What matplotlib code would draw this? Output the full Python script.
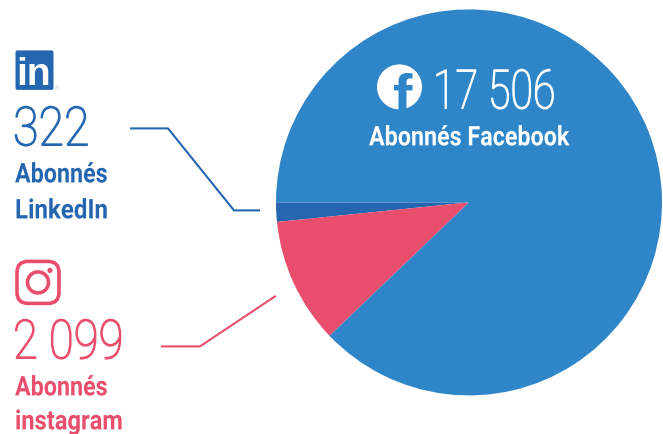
import matplotlib
matplotlib.use("Agg")
import matplotlib.pyplot as plt
from matplotlib.patches import Circle, FancyBboxPatch
from matplotlib.patheffects import AbstractPathEffect
from matplotlib.transforms import Affine2D

# abonnes par reseau
reseaux = ["LinkedIn", "Instagram", "Facebook"]
abonnes = [322, 2099, 17506]
couleurs = ["#2566B0", "#E94E6D", "#2E86C8"]
labels_nb = ["322", "2 099", "17 506"]

H = 435


def Y(y):
    return H - y - 0.4


# pas de police etroite installee: on resserre le texte en x (et on l'epaissit un peu)
class Serre(AbstractPathEffect):
    def __init__(self, x0, sx, lw=0):
        super().__init__()
        self.x0 = x0
        self.sx = sx
        self.lw = lw

    def draw_path(self, renderer, gc, tpath, affine, rgbFace=None):
        a = affine + Affine2D().translate(-self.x0, 0).scale(self.sx, 1).translate(self.x0, 0)
        gc0 = renderer.new_gc()
        gc0.copy_properties(gc)
        gc0.set_linewidth(self.lw)
        gc0.set_foreground(rgbFace if self.lw else "none")
        renderer.draw_path(gc0, tpath, a, rgbFace)
        gc0.restore()


def texte(x, y, s, c, sx, size, weight, lw=0):
    t = ax.text(x, Y(y), s, color=c, family="Roboto", weight=weight, fontsize=size, va="baseline")
    t.set_path_effects([Serre(x, sx, lw)])
    return t


fig = plt.figure(figsize=(6.63, 4.35), dpi=100)
ax = fig.add_axes([0, 0, 1, 1])

ax.pie(abonnes, colors=couleurs, startangle=180, counterclock=True,
       center=(469, Y(203)), radius=193, frame=False,
       wedgeprops={"linewidth": 0})
ax.set_xlim(0, 663)
ax.set_ylim(0, H)
ax.set_aspect("equal")
ax.axis("off")

# traits de rappel
ax.plot([131, 168, 234, 259], [Y(129), Y(129), Y(211), Y(211)], color=couleurs[0], lw=1.5)
ax.plot([162, 200, 275], [Y(347), Y(347), Y(297)], color=couleurs[1], lw=1.5)

# chiffres
texte(13, 146, labels_nb[0], couleurs[0], 0.86, 39, "light", 0.9)
texte(13, 359, labels_nb[1], couleurs[1], 0.84, 39, "light", 0.9)
texte(433, 109, labels_nb[2], "white", 0.76, 39, "light", 0.9)

# libelles
texte(15, 183, "Abonnés", couleurs[0], 0.86, 19.5, "bold")
texte(15, 219, "LinkedIn", couleurs[0], 0.89, 19.5, "bold")
texte(15, 396, "Abonnés", couleurs[1], 0.86, 19.5, "bold")
texte(15, 430, "instagram", couleurs[1], 0.875, 19.5, "bold")
texte(369, 146, "Abonnés Facebook", "white", 0.86, 19.5, "bold")

# icone linkedin
ax.add_patch(FancyBboxPatch((15.5, Y(90.5)), 38, 39.5, boxstyle="round,pad=0,rounding_size=2",
                            fc=couleurs[0], ec="none"))
ax.text(34, Y(85), "in", color="white", family="Liberation Sans", weight="bold",
        fontsize=28, ha="center", va="baseline")
ax.text(55, Y(90), "®", color="#B9CFE8", family="Liberation Sans", fontsize=4, va="baseline")

# icone instagram
ax.add_patch(FancyBboxPatch((17, Y(304)), 42, 42, boxstyle="round,pad=0,rounding_size=11",
                            fc="none", ec=couleurs[1], lw=2.6))
ax.add_patch(Circle((38, Y(283)), 10.5, fc="none", ec=couleurs[1], lw=2.6))
ax.add_patch(Circle((50, Y(271)), 2.6, fc=couleurs[1], ec="none"))

# icone facebook
rond = Circle((399.5, Y(87.5)), 22.5, fc="white", ec="none")
ax.add_patch(rond)
f = ax.text(403, Y(115), "f", color=couleurs[2], family="Liberation Sans", weight="bold",
            fontsize=42, ha="center", va="baseline")
f.set_clip_path(rond)

fig.savefig("out.png", dpi=100)
